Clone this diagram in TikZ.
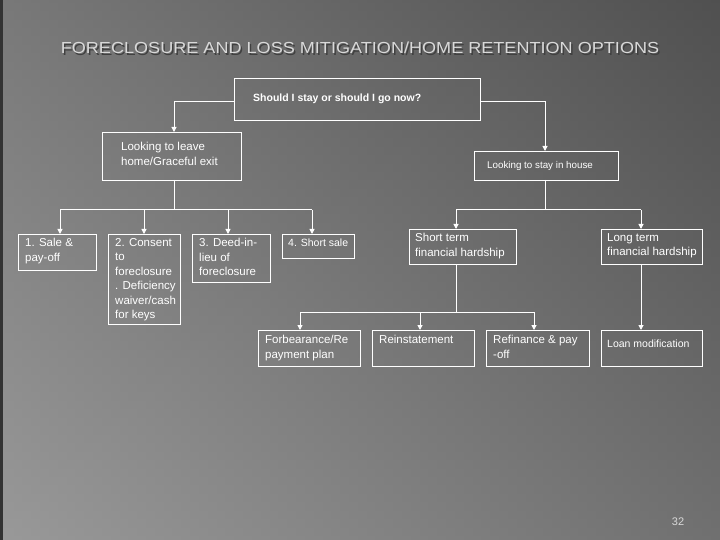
\documentclass[tikz,border=0pt]{standalone}
\usepackage{fontspec}
\setmainfont{Liberation Sans}
\usetikzlibrary{arrows.meta}
\begin{document}
\begin{tikzpicture}[x=1pt,y=-1pt,
  box/.style={draw=white,line width=0.9pt},
  txt/.style={anchor=north west,text=white,font=\fontsize{11.5}{14.5}\selectfont,align=left,inner sep=0pt},
  conn/.style={draw=white,line width=1pt},
  arr/.style={conn,-{Triangle[length=5pt,width=5pt]}}]
\useasboundingbox (0,0) rectangle (720,540);
\shade[left color=black!40,right color=black!72] (0,0) rectangle (720,540);
\shade[top color=black!65,bottom color=black!40,opacity=0.5] (0,0) rectangle (720,540);
\fill[black!80] (0,0) rectangle (3,540);
\node[text=black!75,font=\fontsize{16}{18}\selectfont,xscale=1.13] (ts) at (361.5,49.5) {FORECLOSURE AND LOSS MITIGATION/HOME RETENTION OPTIONS};
\node[text=white!85!black,font=\fontsize{16}{18}\selectfont,xscale=1.13] (title) at (360,48) {FORECLOSURE AND LOSS MITIGATION/HOME RETENTION OPTIONS};
% boxes
\draw[box] (234,78) rectangle (480,120); \node[txt,font=\bfseries\fontsize{10.5}{12}\selectfont] (q) at (253,94) {Should I stay or should I go now?};
\draw[box] (102,132) rectangle (241,180); \node[txt] (leave) at (121,142) {Looking to leave\\home/Graceful exit};
\draw[box] (474,151) rectangle (618,180); \node[txt,font=\fontsize{9.8}{12}\selectfont] (stay) at (487,161) {Looking to stay in house};
\draw[box] (18,234) rectangle (96,270); \node[txt] (b1) at (25,238) {1. Sale \&\\pay-off};
\draw[box] (108,234) rectangle (180,324); \node[txt] (b2) at (115,238) {2. Consent\\to\\foreclosure\\. Deficiency\\waiver/cash\\for keys};
\draw[box] (192,234) rectangle (270,282); \node[txt] (b3) at (199,238) {3. Deed-in-\\lieu of\\foreclosure};
\draw[box] (282,234) rectangle (354,258); \node[txt,font=\fontsize{10.5}{12}\selectfont] (b4) at (288,239) {4. Short sale};
\draw[box] (409,229) rectangle (516,264); \node[txt] (st) at (415,233) {Short term\\financial hardship};
\draw[box] (601,229) rectangle (702,264); \node[txt] (lt) at (607,233) {Long term\\financial hardship};
\draw[box] (258,330) rectangle (360,366); \node[txt] (f) at (265,335) {Forbearance/Re\\payment plan};
\draw[box] (372,330) rectangle (474,366); \node[txt] (r) at (379,335) {Reinstatement};
\draw[box] (486,330) rectangle (589,366); \node[txt] (rf) at (493,335) {Refinance \& pay\\-off};
\draw[box] (601,330) rectangle (702,366); \node[txt,font=\fontsize{10.5}{12}\selectfont] (lm) at (607,340) {Loan modification};
% connectors
\coordinate (qL) at (234,102); \coordinate (qR) at (480,102);
\draw[arr] (qL) -| (174,132);
\draw[arr] (qR) -| (545,151);
\draw[conn] (174,180) -- (174,210);
\draw[conn] (60,210) -- (312,210);
\foreach \x in {60,144,228,312} \draw[arr] (\x,210) -- (\x,234);
\draw[conn] (545,180) -- (545,210);
\draw[conn] (456,210) -- (641,210);
\foreach \x in {456,641} \draw[arr] (\x,210) -- (\x,229);
\draw[conn] (456,264) -- (456,312);
\draw[conn] (300,312) -- (534,312);
\foreach \x in {300,420,534} \draw[arr] (\x,312) -- (\x,330);
\draw[arr] (641,264) -- (641,330);
\node[text=white!85!black,font=\fontsize{11}{13}\selectfont] (pg) at (678,522) {32};
\end{tikzpicture}
\end{document}
